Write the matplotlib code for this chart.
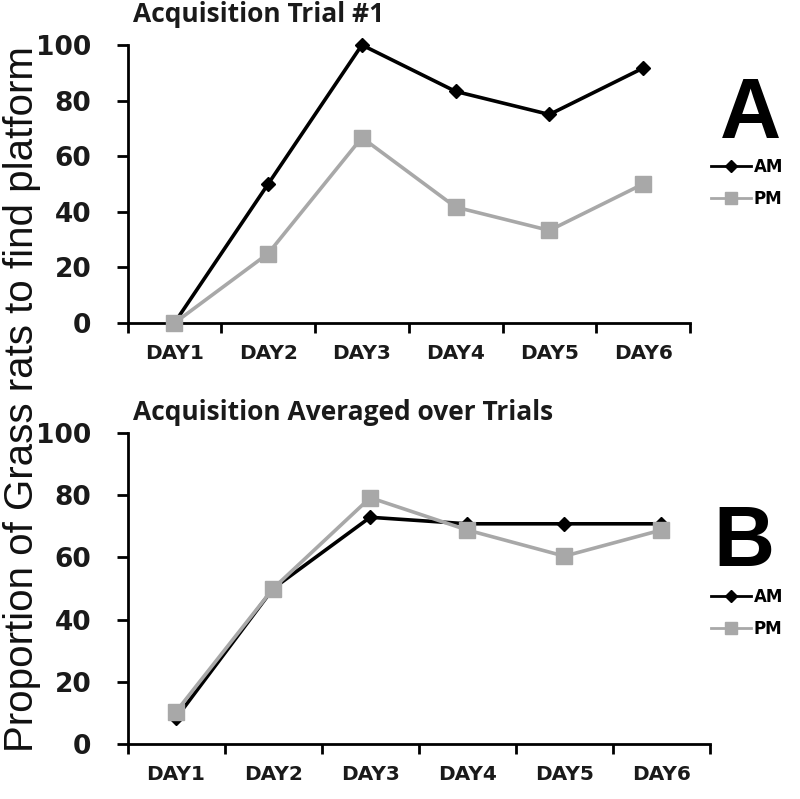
import matplotlib
matplotlib.use("Agg")
import matplotlib.pyplot as plt
from matplotlib.lines import Line2D
import numpy as np

days = ["DAY1", "DAY2", "DAY3", "DAY4", "DAY5", "DAY6"]
trial1_am = [0, 50, 100, 83.3, 75, 91.7]
trial1_pm = [0, 25, 66.7, 41.7, 33.3, 50]
avg_am = [8.3, 50, 72.9, 70.8, 70.8, 70.8]
avg_pm = [10.4, 50, 79.2, 68.8, 60.4, 68.8]
yticks = [0, 20, 40, 60, 80, 100]

AM_COLOR = "black"
PM_COLOR = "#a8a8a8"
TXT = "#1a1a1a"

fig = plt.figure(figsize=(8, 7.99), dpi=100)

ax1 = fig.add_axes([0.1594, 0.5957, 0.7031, 0.348])
ax2 = fig.add_axes([0.1594, 0.0688, 0.7281, 0.3893])

def style(ax, am, pm):
    x = np.arange(len(days))
    ax.plot(x, am, color=AM_COLOR, lw=2.6, marker="D", markersize=7, zorder=3)
    ax.plot(x, pm, color=PM_COLOR, lw=2.6, marker="s", markersize=11, zorder=4)
    ax.set_xlim(-0.5, len(days) - 0.5)
    ax.set_ylim(0, 100)
    ax.set_yticks(yticks)
    ax.set_yticklabels([str(v) for v in yticks], fontsize=19, fontweight="bold",
                       family="DejaVu Sans", color=TXT)
    ax.set_xticks(np.arange(len(days) + 1) - 0.5)
    ax.set_xticklabels([])
    ax.set_xticks(x, minor=True)
    ax.set_xticklabels(days, minor=True, fontsize=14.5, fontweight="bold",
                       family="DejaVu Sans", color=TXT)
    ax.tick_params(axis="x", which="major", length=7, width=2, direction="out")
    ax.tick_params(axis="x", which="minor", length=0, pad=15)
    ax.tick_params(axis="y", length=8, width=2, direction="out", pad=18)
    for s in ["top", "right"]:
        ax.spines[s].set_visible(False)
    for s in ["left", "bottom"]:
        ax.spines[s].set_linewidth(2)
    for ln in ax.lines:
        ln.set_clip_on(False)

style(ax1, trial1_am, trial1_pm)
style(ax2, avg_am, avg_pm)

fig.text(133 / 800, 1 - 15 / 799, "Acquisition Trial #1", fontsize=19,
         fontweight="bold", family="Open Sans", color=TXT,
         ha="left", va="center")
fig.text(133 / 800, 1 - 413 / 799, "Acquisition Averaged over Trials", fontsize=19,
         fontweight="bold", family="Open Sans", color=TXT,
         ha="left", va="center")

fig.text(22 / 800, 1 - 399 / 799, "Proportion of Grass rats to find platform",
         fontsize=29, family="Liberation Sans", rotation=90,
         ha="center", va="center", color="#111111")

fig.text(751 / 800, 1 - 138 / 799, "A", fontsize=61, fontweight="bold",
         family="Liberation Sans", ha="center", va="baseline")
fig.text(744 / 800, 1 - 566 / 799, "B", fontsize=61, fontweight="bold",
         family="Liberation Sans", ha="center", va="baseline")

handles = [Line2D([], [], color=AM_COLOR, lw=2, marker="D", markersize=6),
           Line2D([], [], color=PM_COLOR, lw=2, marker="s", markersize=8)]
labels = ["AM", "PM"]
for ypx in (158, 588):
    fig.legend(handles, labels, loc="upper left",
               bbox_to_anchor=(711 / 800, 1 - ypx / 799),
               frameon=False, handlelength=2.4, handletextpad=0.15,
               labelspacing=0.85, borderpad=0, borderaxespad=0,
               prop={"family": "DejaVu Sans", "weight": "bold", "size": 12})

fig.savefig("out.png", dpi=100)
